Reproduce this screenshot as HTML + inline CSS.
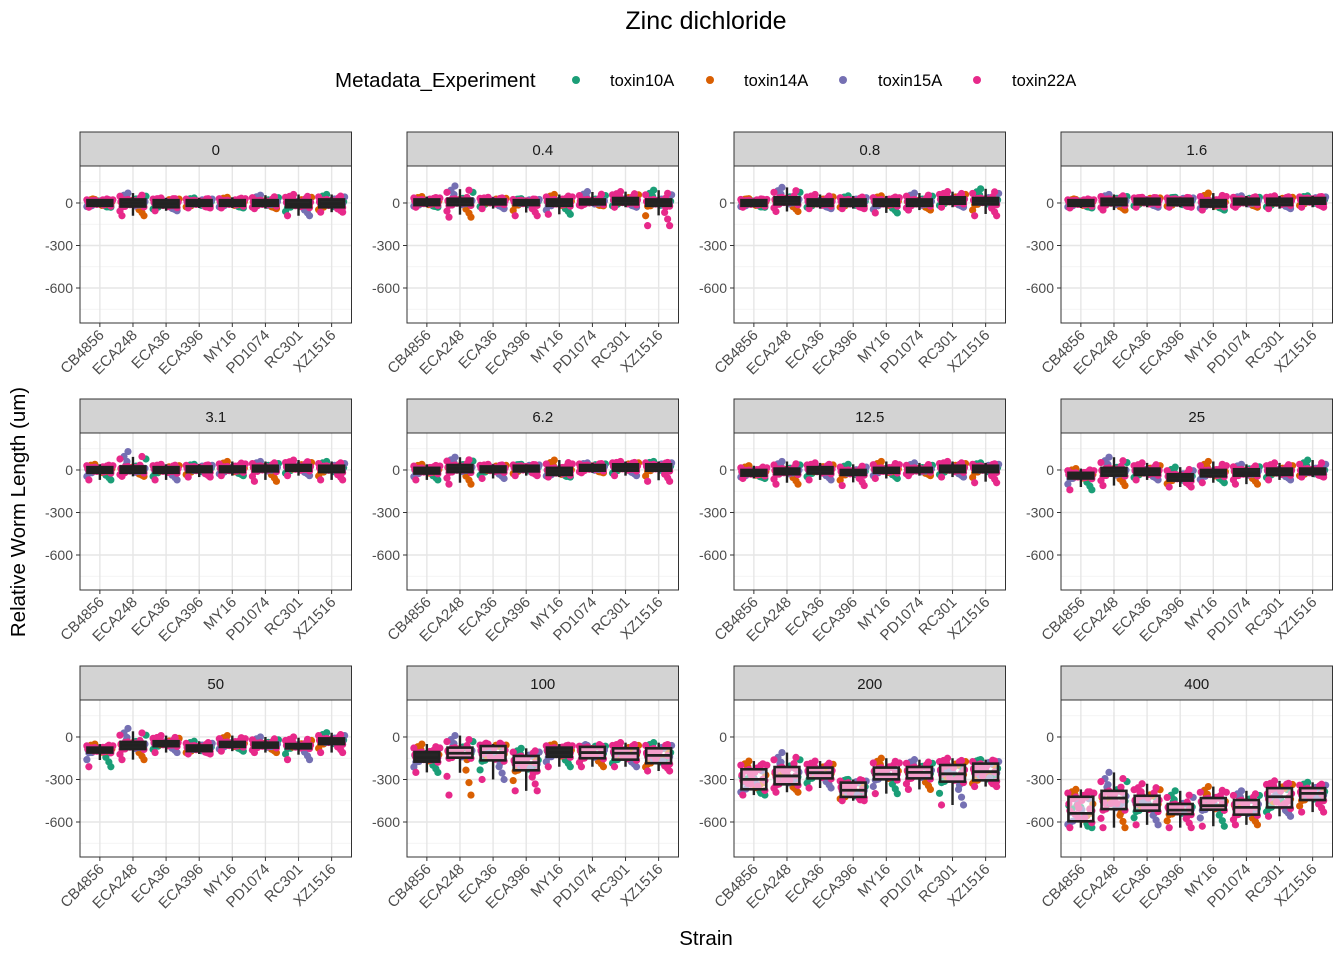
<!DOCTYPE html>
<html><head><meta charset="utf-8"><style>
body{margin:0;background:#fff;}
svg{display:block;font-family:"Liberation Sans",Arial,sans-serif;}
</style></head><body>
<svg id="chart" width="1344" height="960" viewBox="0 0 1344 960">
<text x="706" y="29" text-anchor="middle" font-size="25" fill="#000">Zinc dichloride</text>
<g>
<text x="335" y="87" font-size="20.5" fill="#000">Metadata_Experiment</text>
<circle cx="576" cy="80" r="4" fill="#1B9E77"/>
<text x="610" y="86" font-size="16.5">toxin10A</text>
<circle cx="710" cy="80" r="4" fill="#D95F02"/>
<text x="744" y="86" font-size="16.5">toxin14A</text>
<circle cx="843" cy="80" r="4" fill="#7570B3"/>
<text x="878" y="86" font-size="16.5">toxin15A</text>
<circle cx="977" cy="80" r="4" fill="#E7298A"/>
<text x="1012" y="86" font-size="16.5">toxin22A</text>
</g>
<text x="706" y="945" text-anchor="middle" font-size="20.5">Strain</text>
<text transform="translate(25,512) rotate(-90)" text-anchor="middle" font-size="20.5">Relative Worm Length (um)</text>
</svg>
<script>
const facets=['0','0.4','0.8','1.6','3.1','6.2','12.5','25','50','100','200','400'];
const strains=['CB4856','ECA248','ECA36','ECA396','MY16','PD1074','RC301','XZ1516'];
const yTicks=[0,-300,-600];
const yMinor=[150,-150,-450,-750];
const seriesNames=['toxin10A','toxin14A','toxin15A','toxin22A'];
const medians=[
[0,0,-5,0,0,0,-10,-5],[5,10,10,5,5,10,15,5],[0,15,5,5,5,5,20,15],[0,10,10,10,0,10,10,15],
[0,5,0,5,5,10,15,10],[-5,10,5,10,-10,15,20,20],[-20,-10,0,-20,0,0,10,10],[-40,-10,-10,-50,-20,-20,-10,-10],
[-92,-59,-45,-80,-52,-57,-64,-28],[-146,-115,-110,-181,-110,-110,-115,-130],[-299,-275,-252,-376,-263,-250,-260,-245],[-539,-431,-478,-516,-485,-497,-422,-398]];
const q1s=[
[-20,-25,-30,-20,-20,-20,-30,-30],[-15,-15,-10,-15,-20,-10,-10,-20],[-20,-10,-20,-20,-20,-20,-5,-10],[-20,-15,-10,-15,-25,-10,-15,-5],
[-20,-20,-20,-15,-15,-10,-5,-15],[-25,-15,-15,-10,-35,-5,-5,-5],[-40,-30,-25,-35,-20,-15,-15,-15],[-60,-40,-35,-75,-45,-40,-35,-30],
[-110,-85,-65,-100,-70,-75,-80,-50],[-174,-146,-165,-235,-140,-150,-160,-185],[-369,-334,-292,-423,-299,-292,-315,-306],[-595,-509,-520,-544,-513,-548,-497,-445]];
const q3s=[
[20,25,20,20,20,20,20,25],[25,30,25,20,25,25,35,25],[20,40,25,25,25,25,40,35],[20,30,30,30,20,30,30,35],
[20,25,20,25,25,30,35,30],[15,35,25,30,15,35,40,40],[0,10,20,0,15,15,30,30],[-20,15,10,-30,0,5,10,10],
[-75,-35,-30,-60,-35,-40,-50,-10],[-106,-75,-64,-134,-75,-70,-80,-80],[-228,-212,-216,-322,-216,-212,-198,-188],[-422,-380,-415,-473,-431,-445,-361,-361]];
const lows=[
[-30,-90,-55,-35,-35,-40,-90,-65],[-30,-100,-40,-90,-80,-20,-30,-160],[-30,-60,-40,-40,-70,-50,-30,-90],[-35,-50,-30,-30,-50,-30,-40,-30],
[-70,-45,-70,-50,-40,-80,-40,-70],[-70,-100,-60,-40,-50,-20,-40,-80],[-60,-100,-70,-110,-60,-40,-50,-90],[-140,-110,-70,-120,-90,-100,-70,-50],
[-210,-160,-110,-120,-100,-110,-160,-110],[-250,-410,-300,-380,-210,-210,-210,-240],[-410,-390,-360,-450,-400,-370,-480,-350],[-640,-640,-620,-640,-630,-620,-560,-530]];
const highs=[
[25,70,35,35,40,55,60,60],[45,120,40,30,60,80,80,90],[30,110,60,50,50,70,80,100],[25,60,40,40,70,50,50,50],
[40,130,40,40,60,60,70,60],[40,90,40,40,70,50,60,60],[30,60,50,40,60,50,60,50],[10,90,50,20,60,40,50,70],
[-50,60,10,-30,10,0,0,30],[-50,10,-50,-80,-50,-60,-40,-40],[-170,-110,-170,-300,-150,-160,-150,-160],[-370,-250,-330,-380,-350,-380,-310,-320]];

const colors=['#1B9E77','#D95F02','#7570B3','#E7298A'];
const NS='http://www.w3.org/2000/svg';
const svg=document.getElementById('chart');
const colX=[80,407,734,1061], rowY=[166,433,700], PW=271.5, PH=157, STRIP=34;
const yDom=[-847,261];
function mk(tag,attrs,parent){const e=document.createElementNS(NS,tag);for(const k in attrs)e.setAttribute(k,attrs[k]);(parent||svg).appendChild(e);return e;}
const jx=[-9,6,-3,11,-12,2,8,-6,0,12,-10,4,-1,9,-8,5,-4,10,-11,3,7,-7,1,-2,11,-5,-13,13,6,-6,3,-3,9,-9];
const jf=[0.5,0.3,0.7,0.45,0.6,0.2,0.8,0.35,0.55,0.65,0.4,0.25,0.75,0.5,0.15,0.85,0.6,0.38,0.1,0.9,0.0,1.0,0.48,0.52];
facets.forEach((f,fi)=>{
  const px=colX[fi%4], py=rowY[Math.floor(fi/4)];
  const g=mk('g',{});
  
  
  const y=v=>py+(yDom[1]-v)/(yDom[1]-yDom[0])*PH;
  const step=PW/(strains.length-1+1.2);
  const x=i=>px+step*(0.6+i);
  const st=mk('rect',{x:px,y:py-STRIP,width:PW,height:STRIP,fill:'#d3d3d3',stroke:'#333','stroke-width':1},g);
  
  
  const stt=mk('text',{x:px+PW/2,y:py-STRIP/2+6,'text-anchor':'middle','font-size':15,fill:'#1a1a1a'},g);
  stt.textContent=f;
  
  
  yMinor.forEach(v=>{const l=mk('line',{x1:px,x2:px+PW,y1:y(v),y2:y(v),stroke:'#f0f0f0','stroke-width':0.8},g);
    
    });
  yTicks.forEach(v=>{const l=mk('line',{x1:px,x2:px+PW,y1:y(v),y2:y(v),stroke:'#e6e6e6','stroke-width':1.4},g);
    
    
    mk('line',{x1:px-4,x2:px,y1:y(v),y2:y(v),stroke:'#333','stroke-width':1},g);
    const t=mk('text',{x:px-7,y:y(v)+5,'text-anchor':'end','font-size':14,fill:'#4d4d4d'},g);
    t.textContent=String(v);
    
    });
  strains.forEach((s,i)=>{const l=mk('line',{x1:x(i),x2:x(i),y1:py,y2:py+PH,stroke:'#e6e6e6','stroke-width':1.4},g);
    
    
    mk('line',{x1:x(i),x2:x(i),y1:py+PH,y2:py+PH+4,stroke:'#333','stroke-width':1},g);
    const t=mk('text',{transform:`translate(${x(i)+5},${py+PH+13}) rotate(-45)`,'text-anchor':'end','font-size':15,fill:'#4d4d4d'},g);
    t.textContent=s;
    
    });
  strains.forEach((s,i)=>{
    const med=medians[fi][i],q1=q1s[fi][i],q3=q3s[fi][i],lo=lows[fi][i],hi=highs[fi][i];
    const gg=mk('g',{},g);
    
    
    const pts=[];
    jf.forEach(fr=>{pts.push(q1+(q3-q1)*(fr*1.4-0.2));});
    pts.push(lo,hi,(lo+q1)/2,(hi+q3)/2,(lo+q1*2)/3,(hi+q3*2)/3,(q1+med)/2,(q3+med)/2,(lo*2+q1)/3,(hi*2+q3)/3);
    [0,1,2,3].forEach(ci=>{
      pts.forEach((v,k)=>{
        if((k+i)%4!==ci) return;
        const c=mk('circle',{cx:x(i)+jx[k%jx.length],cy:y(v),r:3.6,fill:colors[ci]},gg);
        
        
      });
    });
    pts.forEach((v,k)=>{
      if(k%3!==0) return;
      const c=mk('circle',{cx:x(i)-jx[k%jx.length],cy:y(v),r:3.6,fill:colors[3]},gg);
      
      
    });
    const iqr=q3-q1;
    const wl=Math.max(lo,q1-1.5*iqr), wh=Math.min(hi,q3+1.5*iqr);
    const bw=step*0.75;
    const bh=y(q1)-y(q3);
    const w1=mk('line',{x1:x(i),x2:x(i),y1:y(q3),y2:y(wh),stroke:'#222','stroke-width':2.4},gg);
    
    
    const w2=mk('line',{x1:x(i),x2:x(i),y1:y(q1),y2:y(wl),stroke:'#222','stroke-width':2.4},gg);
    
    
    const b=mk('rect',{x:x(i)-bw/2,y:y(q3),width:bw,height:Math.max(0.5,bh),fill:bh<10?'#262626':'rgba(255,255,255,0.55)',stroke:'#222','stroke-width':2.6},gg);
    
    
    const m=mk('line',{x1:x(i)-bw/2,x2:x(i)+bw/2,y1:y(med),y2:y(med),stroke:'#222','stroke-width':2.8},gg);
    
    
  });
  const border=mk('rect',{x:px,y:py,width:PW,height:PH,fill:'none',stroke:'#333','stroke-width':1},g);
  
  
});
</script>
</body></html>
